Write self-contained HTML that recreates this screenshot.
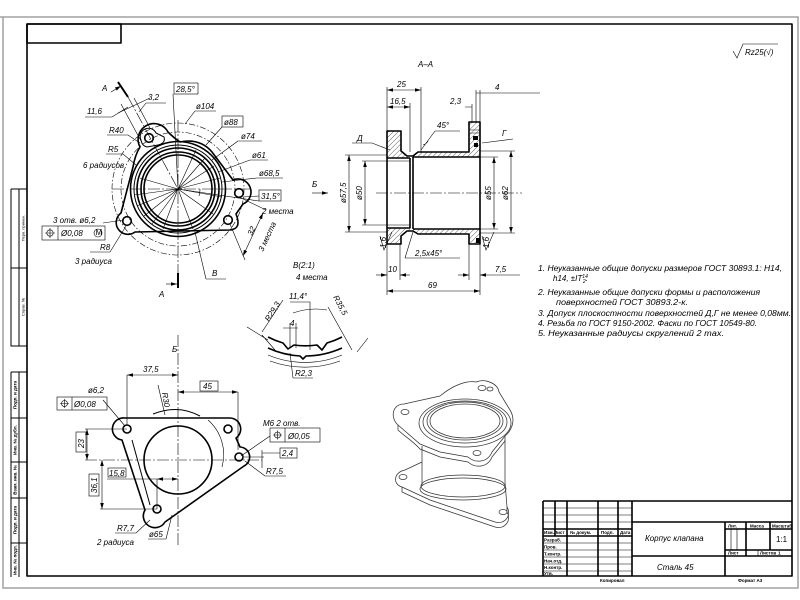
<!DOCTYPE html>
<html><head><meta charset="utf-8"><style>
html,body{margin:0;padding:0;background:#fff}
svg{display:block}
text{font-family:"Liberation Sans","DejaVu Sans",sans-serif;font-style:italic;fill:#000;font-size:8px}
.k{stroke:#000;stroke-width:1.6;fill:none;stroke-linejoin:round}
.m{stroke:#000;stroke-width:1;fill:none}
.t{stroke:#000;stroke-width:0.6;fill:none}
.c{stroke:#000;stroke-width:0.6;fill:none;stroke-dasharray:12 2 2 2}
.d{stroke:#000;stroke-width:0.6;fill:none;stroke-dasharray:6 2 1.5 2}
.i{stroke:#333;stroke-width:0.75;fill:none}
.b{font-style:normal;font-weight:bold;font-size:4.5px}
.s{font-style:normal;font-size:4px}
</style></head><body>
<svg width="800" height="600" viewBox="0 0 800 600" xmlns="http://www.w3.org/2000/svg">
<defs>
<marker id="a" viewBox="0 0 10 6" refX="10" refY="3" markerWidth="6" markerHeight="3.6" orient="auto-start-reverse" markerUnits="userSpaceOnUse"><path d="M0,0 L10,3 L0,6 Z" fill="#000"/></marker>
<pattern id="h" width="3.5" height="3.5" patternUnits="userSpaceOnUse" patternTransform="rotate(45)"><line x1="0" y1="0" x2="0" y2="3.5" stroke="#000" stroke-width="0.6"/></pattern>
</defs>
<rect x="0" y="0" width="800" height="600" fill="#fff"/>

<!-- FRAME -->
<path d="M0,17 H798 V588 H3 V17" stroke="#a0a0a0" stroke-width="1.5" fill="none"/>
<rect x="27" y="24" width="765" height="552" class="k" stroke-width="1.5"/>
<rect x="27" y="24" width="94" height="19" class="k"/>

<!-- LEFT STAMPS -->
<path class="m" d="M11,189 H27 M11,189 V346 H27 M19,189 V346 M11,268 H27"/>
<path class="m" d="M11,372 H27 M11,372 V577 M19,372 V577 M11,418 H27 M11,462 H27 M11,498 H27 M11,543 H27"/>
<text class="s" transform="translate(24.5,228) rotate(-90)" text-anchor="middle">Перв. примен.</text>
<text class="s" transform="translate(24.5,307) rotate(-90)" text-anchor="middle">Справ. №</text>
<text class="b" transform="translate(16.5,395) rotate(-90)" text-anchor="middle">Подп. и дата</text>
<text class="b" transform="translate(16.5,440) rotate(-90)" text-anchor="middle">Инв. № дубл.</text>
<text class="b" transform="translate(16.5,480) rotate(-90)" text-anchor="middle">Взам. инв. №</text>
<text class="b" transform="translate(16.5,520) rotate(-90)" text-anchor="middle">Подп. и дата</text>
<text class="b" transform="translate(16.5,560) rotate(-90)" text-anchor="middle">Инв. № подл.</text>

<!-- TOP VIEW -->
<circle cx="178" cy="189" r="66" class="d"/>
<circle cx="178" cy="189" r="57" class="d"/>
<line x1="112" y1="189" x2="252" y2="189" class="c"/>
<line x1="178" y1="120" x2="178" y2="273" class="c"/>
<path class="c" d="M128,97 L178,189"/>
<g class="t">
<path d="M178,189 L140,178 M178,189 L134,195 M178,189 L137,206 M178,189 L144,216 M178,189 L152,224 M178,189 L163,229 M178,189 L205,158 M178,189 L214,166 M178,189 L220,178 M178,189 L222,197 M178,189 L213,214 M178,189 L193,229 M178,189 L196,150"/>
</g>
<path class="k" d="M140,147 A14,14 0 0 1 168,132 Q174,138 180,142 Q200,138 212,152 L233,180 A12,12 0 0 1 243,204 L236,214 Q242,229 230,230 L135,232 A11,11 0 0 1 121,213 L133,167 Q135,155 140,147 Z"/>
<path class="m" d="M141,140 A8,8 0 0 1 156,133 L164,137 Q166,143 158,145 L147,147 Q142,146 141,140Z"/>
<circle cx="178" cy="189" r="47.5" class="k"/>
<circle cx="178" cy="189" r="44" class="m"/>
<circle cx="178" cy="189" r="41" class="k"/>
<circle cx="178" cy="189" r="37" class="k"/>
<circle cx="178" cy="189" r="34" class="k"/>
<g class="k">
<circle cx="149" cy="138" r="4.3"/><circle cx="239" cy="193" r="4.3"/><circle cx="127" cy="221" r="4.3"/><circle cx="228" cy="220" r="4.3"/>
</g>
<!-- cutting plane -->
<path d="M118,82 L128,97" stroke="#000" stroke-width="2" fill="none"/>
<path d="M111,92 L121,86" class="t" marker-end="url(#a)"/>
<path d="M178,273 V288" stroke="#000" stroke-width="2" fill="none"/>
<path d="M166,284 H177" class="t" marker-end="url(#a)"/>
<text x="102" y="91" font-size="11">А</text>
<text x="159" y="297" font-size="11">А</text>
<!-- dims top view -->
<g class="t">
<path d="M146,103 H166 M146,103 L139,112"/>
<path d="M85,117 H112 L128,107"/>
<path d="M121,104 L141,141 M134,98 L150,128 M118,113 L150,98"/>
<rect x="174" y="83" width="24" height="11"/>
<path d="M173,94 L178,189"/>
<path d="M195,111 H216 M195,111 L185,124"/>
<rect x="222" y="116" width="21" height="11"/>
<path d="M222,127 L206,145"/>
<path d="M238,141 H262 M238,141 L212,160"/>
<path d="M250,160 H268 M250,160 L218,172"/>
<path d="M257,178 H283 M257,178 L222,182"/>
<rect x="259" y="190" width="22" height="11"/>
<path d="M259,196 L243,197 M178,189 L259,201 M200,189 A22,22 0 0 1 199,196"/>
<path d="M239,197 L266,210 M230,224 L245,260"/>
<path d="M107,135 H128 L140,143"/>
<path d="M106,154 H123 L136,165"/>
<path d="M103,223 L124,220"/>
<rect x="42" y="226" width="63" height="14"/>
<path d="M58,226 V240"/>
<circle cx="50" cy="233" r="3.2"/>
<path d="M45,233 H55 M50,228 V238"/>
<circle cx="98" cy="233" r="4"/>
<path d="M90,252 H110 L126,226"/>
<path d="M206,279 H226 M206,279 L195,232"/>
</g>
<path d="M263,213 L243,256" class="t" marker-start="url(#a)" marker-end="url(#a)"/>
<text x="148" y="100">3,2</text>
<text x="87" y="114">11,6</text>
<text x="176" y="92">28,5°</text>
<text x="196" y="109">ø104</text>
<text x="224" y="125">ø88</text>
<text x="241" y="139">ø74</text>
<text x="252" y="158">ø61</text>
<text x="259" y="176">ø68,5</text>
<text x="261" y="199">31,5°</text>
<text x="262" y="214">2 места</text>
<text transform="translate(252,236) rotate(-65)">32</text>
<text transform="translate(263,252) rotate(-65)">3 места</text>
<text x="109" y="133">R40</text>
<text x="108" y="152">R5</text>
<text x="83" y="168">6 радиусов</text>
<text x="53" y="223">3 отв.   ø6,2</text>
<text x="61" y="236">Ø0,08</text>
<text x="95.5" y="235" font-size="5" style="font-style:normal">M</text>
<text x="100" y="250">R8</text>
<text x="75" y="264">3 радиуса</text>
<text x="212" y="276" font-size="10">В</text>

<!-- SECTION A-A -->
<text x="418" y="67" font-size="13">А–А</text>
<path fill="url(#h)" stroke="none" d="M387,131 L401,131 L401,151 L407,156 L413,156 L418,152 L469,152 L469,122 L480,122 L480,157 L413,157 L410,158 L387,158 Z"/>
<path fill="url(#h)" stroke="none" d="M387,228 L410,228 L413,229 L480,229 L480,244 L469,244 L469,234 L418,234 L413,231 L407,231 L401,236 L401,244 L387,244 Z"/>
<path class="k" d="M387,131 L401,131 L401,151 L407,156 L413,156 L418,152 L469,152 L469,122 L480,122 L480,244 L469,244 L469,234 L418,234 L413,231 L407,231 L401,236 L401,244 L387,244 Z"/>
<path class="k" d="M387,158 H410 M387,228 H410 M410,158 V228 M413,157 V229 M413,157 H480 M413,229 H480"/>
<rect x="473" y="136" width="5" height="4" fill="#000"/>
<rect x="474" y="143" width="4" height="4" fill="#000"/>
<rect x="476" y="238" width="4" height="5" fill="#000"/>
<path class="t" d="M470,130 H480 M470,133 H480"/>
<line x1="376" y1="193" x2="522" y2="193" class="c"/>
<g class="t">
<path d="M387,87 V131 M387,244 V295 M421,87 V152 M410,103 V152 M472,104 V122 M476,90 V122 M480,90 V122 M480,244 V295"/>
<path d="M345,155 H387 M345,232 H387 M362,161 H410 M362,225 H410"/>
<path d="M480,157 H498 M480,229 H498 M480,151 H515 M480,233 H515"/>
<path d="M400,244 V280 M469,244 V280"/>
<path d="M352,143 H372 L390,150"/>
<path d="M482,143 L513,139"/>
<path d="M435,131 H460 M435,131 L421,150 M423,145 A8,8 0 0 0 428,141"/>
<path d="M405,258 H460 M405,258 L413,232"/>
<path d="M380,236 L384,250 L392,232 M482,236 L486,250 L494,232"/>
<path d="M476,93 H540 M465,107 H472"/>
</g>
<path d="M387,90 H421" class="t" marker-start="url(#a)" marker-end="url(#a)"/>
<path d="M387,107 H410" class="t" marker-start="url(#a)" marker-end="url(#a)"/>
<path d="M349,155 V232" class="t" marker-start="url(#a)" marker-end="url(#a)"/>
<path d="M365,161 V225" class="t" marker-start="url(#a)" marker-end="url(#a)"/>
<path d="M494,157 V229" class="t" marker-start="url(#a)" marker-end="url(#a)"/>
<path d="M511,151 V233" class="t" marker-start="url(#a)" marker-end="url(#a)"/>
<path d="M387,291 H480" class="t" marker-start="url(#a)" marker-end="url(#a)"/>
<path d="M376,275 H387" class="t" marker-end="url(#a)"/>
<path d="M410,275 H400" class="t" marker-end="url(#a)"/>
<path d="M458,275 H469" class="t" marker-end="url(#a)"/>
<path d="M520,275 H480" class="t" marker-end="url(#a)"/>
<path d="M312,193 H328" class="t" marker-end="url(#a)"/>
<text x="397" y="87">25</text>
<text x="390" y="104">16,5</text>
<text x="450" y="104">2,3</text>
<text x="495" y="90">4</text>
<text x="437" y="128">45°</text>
<text x="357" y="141" font-size="10">Д</text>
<text x="502" y="136" font-size="10">Г</text>
<text x="312" y="187" font-size="10">Б</text>
<text transform="translate(346,203) rotate(-90)">ø57,5</text>
<text transform="translate(362,200) rotate(-90)">ø50</text>
<text transform="translate(491,200) rotate(-90)">ø55</text>
<text transform="translate(508,200) rotate(-90)">ø62</text>
<text transform="translate(386,248) rotate(-90)" font-size="7">1,6</text>
<text transform="translate(489,248) rotate(-90)" font-size="7">1,6</text>
<text x="415" y="256">2,5x45°</text>
<text x="388" y="272">10</text>
<text x="495" y="272">7,5</text>
<text x="428" y="288">69</text>

<!-- Rz -->
<path class="t" stroke-width="0.8" d="M733,51 L737,58 L743,44 H778"/>
<text x="745" y="55" font-size="7.5">Rz25(√)</text>

<!-- NOTES -->
<text x="538" y="271" textLength="244" lengthAdjust="spacingAndGlyphs">1. Неуказанные общие допуски размеров  ГОСТ 30893.1: H14,</text>
<text x="553" y="281">h14, ±IT<tspan font-size="5" dy="-3">14</tspan><tspan font-size="5" dx="-5" dy="5">2</tspan><tspan dy="-2">.</tspan></text>
<text x="538" y="295" textLength="222" lengthAdjust="spacingAndGlyphs">2. Неуказанные общие допуски формы и расположения</text>
<text x="556" y="305" textLength="132" lengthAdjust="spacingAndGlyphs">поверхностей  ГОСТ 30893.2-к.</text>
<text x="538" y="316" textLength="253" lengthAdjust="spacingAndGlyphs">3. Допуск плоскостности поверхностей Д,Г не менее 0,08мм.</text>
<text x="538" y="326" textLength="219" lengthAdjust="spacingAndGlyphs">4. Резьба по ГОСТ 9150-2002. Фаски по ГОСТ 10549-80.</text>
<text x="538" y="336" textLength="186" lengthAdjust="spacingAndGlyphs">5. Неуказанные радиусы скруглений 2 max.</text>

<!-- DETAIL B -->
<text x="293" y="268" font-size="10">В(2:1)</text>
<text x="296" y="280" font-size="7">4 места</text>
<path class="k" d="M268,337 A80,80 0 0 0 283,343 L288,349 L294,345 A80,80 0 0 0 317,345 L322,350 L327,343 A80,80 0 0 0 342,337"/>
<path class="k" d="M268,348 A90,90 0 0 0 300,356 L303,359 L306,356 A90,90 0 0 0 342,348"/>
<g class="t">
<path d="M268,355 A96,96 0 0 0 342,355 M270,361 A102,102 0 0 0 340,361"/>
<path d="M262,332 L283,300 M328,307 L352,350"/>
<path d="M290,302 H310 V350"/>
<path d="M293,313 Q310,307 327,310"/>
<path d="M283,328 H298 M290,323 V348 M296,323 V348"/>
<path d="M293,378 H313 M293,378 L290,353"/>
<path d="M247,327 L268,340 M357,352 L368,338 M262,335 L275,350"/>
</g>
<text transform="translate(269,322) rotate(-58)">R29,3</text>
<text transform="translate(333,297) rotate(62)">R35,5</text>
<text x="289" y="299">11,4°</text>
<text x="290" y="326">4</text>
<text x="295" y="376">R2,3</text>

<!-- ISOMETRIC -->
<g class="i">
<path d="M398,425 C390,418 392,404 404,404 L440,396 C452,386 466,380 476,382 C486,378 498,384 499,392 L510,410 C516,420 512,430 505,436 L492,452 C488,462 476,464 468,457 L440,452 L420,444 Z"/>
<path d="M398,425 L398,430 C404,436 412,440 420,449 L440,457 L468,462 C476,469 488,467 492,457 L505,441 L505,436"/>
<ellipse cx="465" cy="423" rx="46" ry="24"/>
<ellipse cx="465" cy="422" rx="42" ry="21"/>
<ellipse cx="465" cy="421" rx="38" ry="19"/>
<ellipse cx="465" cy="421" rx="35" ry="17"/>
<ellipse cx="405" cy="412" rx="4" ry="2.5"/>
<ellipse cx="482" cy="388" rx="4" ry="2.5"/>
<ellipse cx="490" cy="389" rx="3" ry="2"/>
<ellipse cx="477" cy="453" rx="4" ry="2.5"/>
<path d="M422,446 V486 M505,440 V482"/>
<ellipse cx="463" cy="486" rx="42" ry="11"/>
<ellipse cx="463" cy="489" rx="43" ry="11"/>
<path d="M422,462 L405,470 C394,472 392,484 402,487 L430,500 L495,522 C505,525 512,515 507,507 L505,482"/>
<path d="M402,487 L402,492 L430,505 L495,527 C505,530 512,520 507,512 V507"/>
<ellipse cx="403" cy="477" rx="4" ry="2.5"/>
<ellipse cx="503" cy="512" rx="4" ry="2.5"/>
</g>

<!-- VIEW B -->
<text x="172" y="352" font-size="10">Б</text>
<line x1="85" y1="460" x2="262" y2="460" class="c"/>
<line x1="178" y1="335" x2="178" y2="545" class="c"/>
<path class="k" d="M125,418 L230,418 A11,11 0 0 1 236,438 L240,447 A10,10 0 0 1 244,466 L165,522 A10,10 0 0 1 145,510 L122,440 A11,11 0 0 1 125,418 Z"/>
<path class="m" d="M132,440 L150,505 M153,414 Q178,404 200,416"/>
<path class="t" d="M208,420 A46,46 0 0 1 222,467"/>
<circle cx="178" cy="460" r="34" class="k"/>
<g class="k"><circle cx="127" cy="429" r="4"/><circle cx="228" cy="429" r="4"/><circle cx="239" cy="457" r="4"/><circle cx="157" cy="509" r="4"/></g>
<g class="t">
<path d="M127,375 V425 M238,392 V450 M85,429 H127 M100,509 H157 M157,479 V509"/>
<rect x="200" y="381" width="18" height="10"/>
<path d="M158,385 L165,415"/>
<path d="M103,400 L125,426"/>
<rect x="57" y="397" width="50" height="13"/><path d="M72,397 V410"/>
<circle cx="64.5" cy="403.5" r="3"/><path d="M60,403.5 H69 M64.5,399 V408"/>
<rect x="76" y="432" width="10" height="20"/>
<rect x="89" y="474" width="10" height="22"/>
<rect x="108" y="468" width="18" height="9"/>
<path d="M107,479 H157"/>
<path d="M270,436 L241,456"/>
<rect x="270" y="428" width="50" height="14"/><path d="M285,428 V442"/>
<circle cx="277.5" cy="435" r="3"/><path d="M273,435 H282 M277.5,430.5 V439.5"/>
<rect x="280" y="448" width="17" height="10"/>
<path d="M262,450 V468 M244,457 H264 M262,453 H280"/>
<path d="M265,476 H286 M265,476 L245,461"/>
<path d="M115,533 H136 L150,520"/>
<path d="M148,539 H166 L172,515"/>
</g>
<path d="M127,375 H178" class="t" marker-start="url(#a)" marker-end="url(#a)"/>
<path d="M178,392 H238" class="t" marker-start="url(#a)" marker-end="url(#a)"/>
<path d="M87,429 V460" class="t" marker-start="url(#a)" marker-end="url(#a)"/>
<path d="M102,460 V509" class="t" marker-start="url(#a)" marker-end="url(#a)"/>
<path d="M157,479 H178" class="t" marker-start="url(#a)" marker-end="url(#a)"/>
<text x="143" y="372">37,5</text>
<text x="203" y="389">45</text>
<text transform="translate(162,393) rotate(80)">R30</text>
<text x="88" y="393">ø6,2</text>
<text x="74" y="407">Ø0,08</text>
<text transform="translate(84,448) rotate(-90)">23</text>
<text transform="translate(97,493) rotate(-90)">36,1</text>
<text x="109" y="476">15,8</text>
<text x="263" y="426">M6   2 отв.</text>
<text x="288" y="439">Ø0,05</text>
<text x="282" y="456">2,4</text>
<text x="266" y="474">R7,5</text>
<text x="117" y="531">R7,7</text>
<text x="97" y="545">2 радиуса</text>
<text x="149" y="537">ø65</text>

<!-- TITLE BLOCK -->
<g class="t">
<path d="M543,508 H632 M543,515 H632 M543,522 H632 M543,543 H632 M543,550 H632 M543,557 H632 M543,564 H632 M543,571 H632"/>
<path d="M731,529 V550 M737,529 V550 M758,550 V556"/>
</g>
<g class="k" stroke-width="1.3">
<path d="M543,501 H792 M543,501 V576 M555,501 V536 M567,501 V576 M598,501 V576 M618,501 V576 M632,501 V576"/>
<path d="M543,529 H632 M543,536 H632"/>
<path d="M632,522 H792 M632,556 H792 M725,522 V576 M725,529 H792 M746,522 V556 M770,522 V550 M725,550 H792"/>
</g>
<text class="b" x="544" y="534">Изм.Лист</text>
<text class="b" x="570" y="534">№ докум.</text>
<text class="b" x="601" y="534">Подп.</text>
<text class="b" x="620" y="534">Дата</text>
<text class="b" x="544" y="541.5">Разраб.</text>
<text class="b" x="544" y="548.5">Пров.</text>
<text class="b" x="544" y="555.5">Т.контр.</text>
<text class="b" x="544" y="562.5">Нач.отд.</text>
<text class="b" x="544" y="569">Н.контр.</text>
<text class="b" x="544" y="575">Утв.</text>
<text x="645" y="541" font-size="11">Корпус клапана</text>
<text x="657" y="570" font-size="10.5">Сталь 45</text>
<text class="b" x="728" y="527.5">Лит.</text>
<text class="b" x="750" y="527.5">Масса</text>
<text class="b" x="772" y="527.5">Масштаб</text>
<text x="776" y="542" font-size="5.5" style="font-style:normal">1:1</text>
<text class="b" x="728" y="554.5">Лист</text>
<text class="b" x="760" y="554.5">Листов</text>
<text class="b" x="778" y="554.5">1</text>
<text class="b" x="600" y="582">Копировал</text>
<text class="b" x="738" y="582">Формат А3</text>
</svg>
</body></html>
